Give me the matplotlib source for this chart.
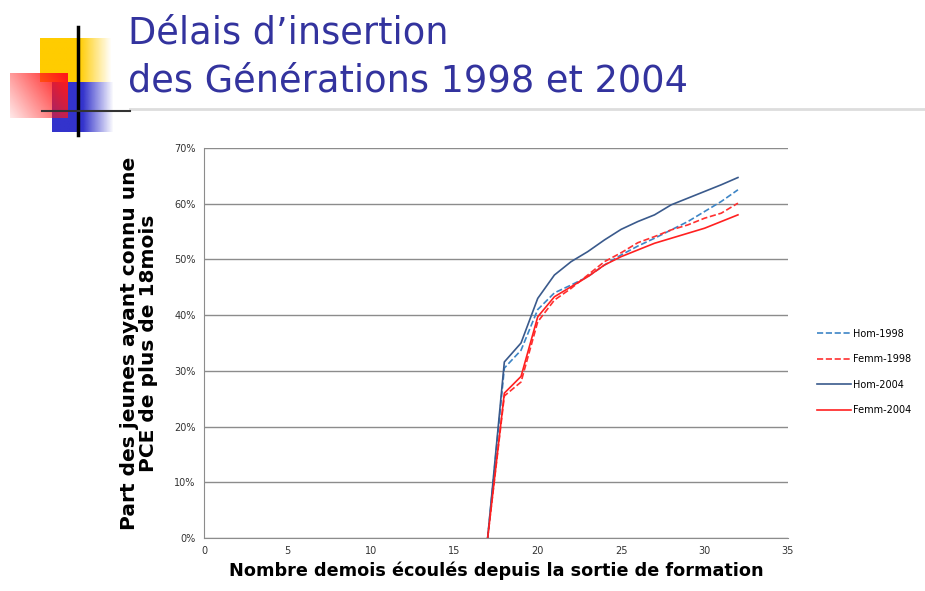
import numpy as np
import matplotlib.pyplot as plt
from matplotlib.lines import Line2D

months = [17, 18, 19, 20, 21, 22, 23, 24, 25, 26, 27, 28, 29, 30, 31, 32]
hom_1998 = [0, 30.5, 33.7, 41.0, 44.0, 45.4, 46.9, 49.0, 50.8, 52.4, 53.8, 55.3, 56.8, 58.6, 60.4, 62.5]
femm_1998 = [0, 25.5, 28.0, 38.8, 42.7, 44.8, 47.2, 49.6, 51.2, 53.0, 54.1, 55.3, 56.2, 57.4, 58.3, 60.1]
hom_2004 = [0, 31.6, 35.0, 43.0, 47.2, 49.6, 51.4, 53.5, 55.4, 56.8, 58.0, 59.8, 61.0, 62.2, 63.4, 64.7]
femm_2004 = [0, 26.0, 29.0, 39.7, 43.3, 45.1, 46.9, 49.0, 50.5, 51.7, 52.9, 53.8, 54.7, 55.6, 56.8, 58.0]

series = [
    ("Hom-1998", hom_1998, "#3d85c6", "--"),
    ("Femm-1998", femm_1998, "#ff3030", "--"),
    ("Hom-2004", hom_2004, "#3a5a8c", "-"),
    ("Femm-2004", femm_2004, "#ff2020", "-"),
]

fig = plt.figure(figsize=(9.25, 5.91), dpi=100)

# slide decoration (top left), in pixel coordinates
deco = fig.add_axes([0, 0, 1, 1])
deco.set_xlim(0, 925)
deco.set_ylim(591, 0)
deco.axis("off")


def fade_box(x0, y0, w, h, rgb, solid_frac, diagonal=False):
    n = 60
    img = np.ones((n, n, 4))
    img[..., :3] = rgb
    t = np.linspace(0, 1, n)
    if not diagonal:
        a = np.where(t < solid_frac, 1, np.clip((1 - t) / (1 - solid_frac), 0, 1))
        img[..., 3] = a[None, :]
    else:
        # strong at top right, fading to the bottom left
        xx, yy = np.meshgrid(t, t)
        img[..., 3] = np.clip(0.1 + 0.95 * (xx * 0.65 + (1 - yy) * 0.35), 0, 1)
    deco.imshow(img, extent=(x0, x0 + w, y0 + h, y0), aspect="auto", zorder=1)


fade_box(40, 38, 72, 44, (1.0, 0.8, 0.0), 0.55)
fade_box(52, 82, 62, 50, (0.2, 0.2, 0.8), 0.5)
fade_box(10, 73, 58, 45, (1.0, 0.1, 0.1), 0, diagonal=True)
deco.plot([78, 78], [27, 135], color="black", lw=2.5, zorder=3)
deco.plot([42, 130], [111, 111], color="#333333", lw=1.5, zorder=3)
deco.plot([130, 925], [109, 109], color="#dddddd", lw=2, zorder=2)

title_kw = dict(fontsize=26.5, color="#33339e", va="baseline", ha="left", family="DejaVu Sans")
deco.text(128, 44, "Délais d’insertion", **title_kw)
deco.text(128, 92, "des Générations 1998 et 2004", **title_kw)

ax = fig.add_axes([204 / 925, 53 / 591, 584 / 925, 390 / 591])
for name, vals, color, ls in series:
    ax.plot(months, vals, color=color, linestyle=ls, lw=1.2, label=name)

ax.set_xlim(0, 35)
ax.set_ylim(0, 70)
ax.set_xticks(range(0, 36, 5))
ax.set_yticks(range(0, 71, 10))
ax.set_yticklabels([f"{v}%" for v in range(0, 71, 10)])
ax.tick_params(length=0, labelsize=7, colors="#333333", pad=6)
ax.grid(axis="y", color="#8c8c8c", lw=1)
ax.set_axisbelow(True)
for s in ["top", "right"]:
    ax.spines[s].set_visible(False)
for s in ["left", "bottom"]:
    ax.spines[s].set_color("#8c8c8c")

ax.set_xlabel("Nombre demois écoulés depuis la sortie de formation", fontsize=12.7,
              fontweight="bold", labelpad=4)
ax.set_ylabel("Part des jeunes ayant connu une\nPCE de plus de 18mois", fontsize=14.5,
              fontweight="bold", labelpad=12, linespacing=0.95)

handles = [Line2D([0], [0], color=c, linestyle=ls, lw=1.2) for _, _, c, ls in series]
fig.legend(handles, [s[0] for s in series], loc="center left",
           bbox_to_anchor=(808 / 925, 1 - 372 / 591), frameon=False, fontsize=7,
           handlelength=3.5, handletextpad=0.2, labelspacing=1.6)

plt.savefig("out.png", dpi=100)
